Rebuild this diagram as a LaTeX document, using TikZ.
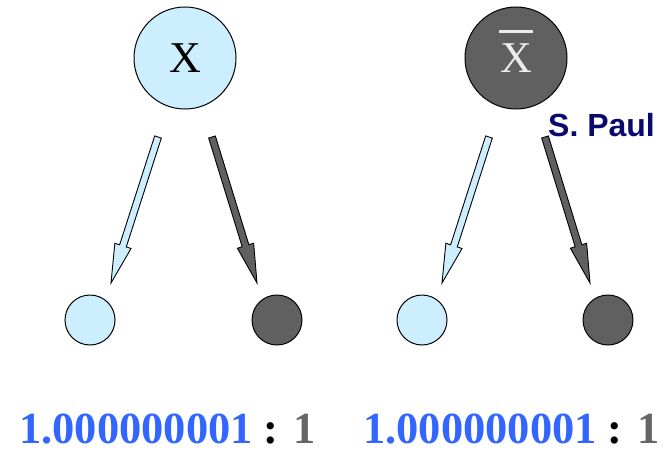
\documentclass[tikz,border=0pt]{standalone}
\usepackage{fontspec}
\setmainfont{Liberation Serif}
\newfontfamily\sansbf{Liberation Sans}
\usetikzlibrary{calc}
\definecolor{lightb}{RGB}{204,238,255}
\definecolor{darkg}{RGB}{96,96,96}
\definecolor{numblue}{RGB}{51,102,255}
\definecolor{numgray}{RGB}{102,102,102}
\definecolor{navyt}{RGB}{10,10,110}
\definecolor{xbartext}{RGB}{235,235,235}
\newcommand\fatarrow[3]{%
  \coordinate (fa-h) at ($(#3)!39pt!(#2)$);
  \filldraw[fill=#1, draw=black, line width=0.9pt, line join=miter]
    ($(#2)!3.5pt!90:(#3)$) -- ($(fa-h)!3.5pt!-90:(#2)$) -- ($(fa-h)!8.5pt!-90:(#2)$)
    -- (#3) -- ($(fa-h)!8.5pt!90:(#2)$) -- ($(fa-h)!3.5pt!90:(#2)$)
    -- ($(#2)!3.5pt!-90:(#3)$) -- cycle;}
\begin{document}
\begin{tikzpicture}[x=1pt,y=-1pt,
  big/.style={circle, draw=black, line width=1pt, minimum size=102pt, inner sep=0pt,
    font=\fontsize{44}{44}\selectfont},
  small/.style={circle, draw=black, line width=1pt, minimum size=50pt, inner sep=0pt},
  ratio/.style={anchor=base west, inner sep=0pt, font=\fontsize{44.5}{44.5}\selectfont\bfseries}]
\useasboundingbox (0,0) rectangle (664,455);
% top circles
\node[big, fill=lightb] (x) at (185,58) {X};
\node[big, fill=darkg, text=xbartext] (xbar) at (516,58) {\raisebox{-3pt}{X}};
\draw[xbartext, line width=3.2pt] ($(xbar.center)+(-17,-26.5)$) -- ($(xbar.center)+(17,-26.5)$);
% small circles
\node[small, fill=lightb] (l1) at (90,320) {};
\node[small, fill=darkg] (d1) at (277,320) {};
\node[small, fill=lightb] (l2) at (422,320) {};
\node[small, fill=darkg] (d2) at (608,320) {};
% arrow ends
\coordinate (a1t) at (158,137); \coordinate (a1h) at (111,283);
\coordinate (b1t) at (212,137); \coordinate (b1h) at (257,283);
\coordinate (a2t) at (489,137); \coordinate (a2h) at (442,283);
\coordinate (b2t) at (545,137); \coordinate (b2h) at (590,283);
\fatarrow{lightb}{a1t}{a1h}
\fatarrow{darkg}{b1t}{b1h}
\fatarrow{lightb}{a2t}{a2h}
\fatarrow{darkg}{b2t}{b2h}
% label
\node[anchor=base west, inner sep=0pt, text=navyt, font=\sansbf\bfseries\fontsize{32}{32}\selectfont] (sp) at (548,136) {S. Paul};
% ratios
\node[ratio] (r1) at (19,443) {\textcolor{numblue}{1.000000001} : \textcolor{numgray}{1}};
\node[ratio] (r2) at (363,443) {\textcolor{numblue}{1.000000001} : \textcolor{numgray}{1}};
\end{tikzpicture}
\end{document}
